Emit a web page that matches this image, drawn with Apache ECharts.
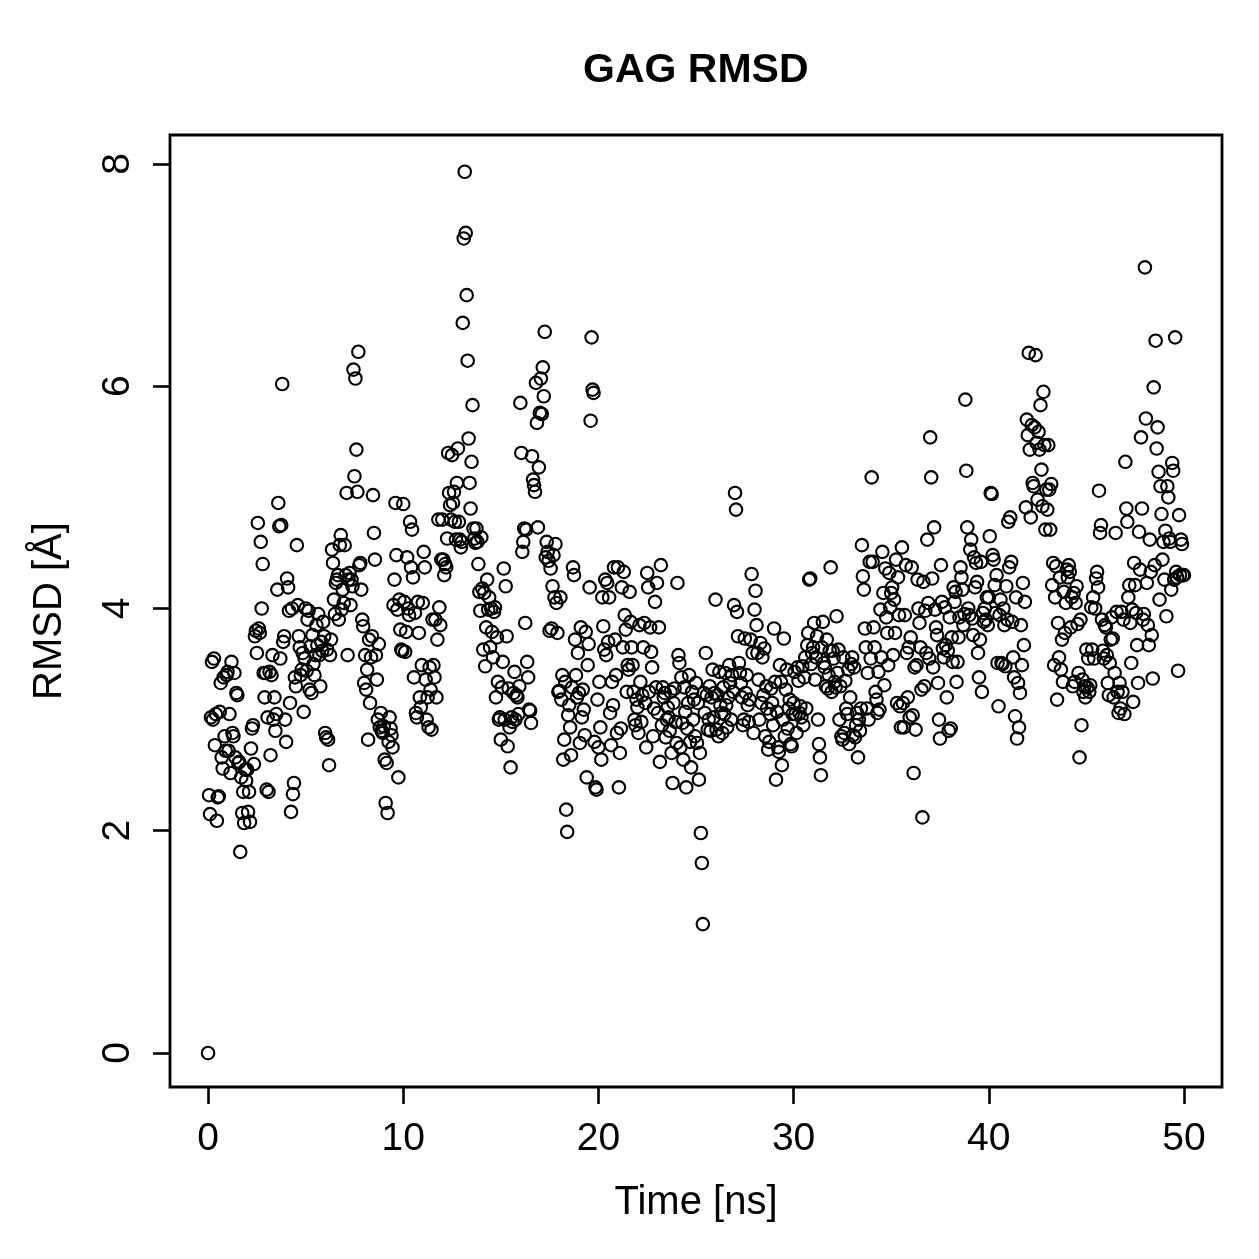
<!DOCTYPE html>
<html>
<head>
<meta charset="utf-8">
<title>GAG RMSD</title>
<script src="https://cdn.jsdelivr.net/npm/echarts@6/dist/echarts.min.js"></script>
<style>
  html, body { margin: 0; padding: 0; background: #fff; }
  #chart { width: 1259px; height: 1259px; }
</style>
</head>
<body>
<div id="chart"></div>
<script>
// one frame every 0.05 ns, 20 frames per ns, values in Angstrom
const rmsd0to10 = [
  0, 2.32, 2.15, 3.02, 3.52, 3.0, 3.55, 2.77, 3.05, 2.09, 2.3, 2.31, 3.07, 3.33, 2.66, 2.56, 3.38, 2.85, 2.72, 3.4,
  3.43, 2.72, 3.05, 2.52, 3.52, 2.88, 2.85, 3.42, 2.66, 3.24, 3.22, 2.61, 2.62, 1.81, 2.48, 2.16, 2.35, 2.07, 2.55, 2.45,
  2.55, 2.17, 2.35, 2.08, 2.74, 2.92, 2.95, 2.6, 3.75, 3.8, 3.6, 4.77, 3.82, 3.78, 4.6, 4.0, 4.4, 3.42, 3.2, 3.42,
  2.37, 3.02, 2.35, 3.43, 2.68, 3.4, 3.58, 3.0, 3.2, 2.9, 3.05, 4.17, 4.95, 4.74, 3.55, 4.75, 6.02, 3.7, 3.75, 3.0,
  2.8, 4.27, 4.19, 3.98, 3.15, 2.17, 4.0, 2.33, 2.43, 3.38, 3.3, 4.57, 4.03, 3.75, 3.65, 3.4, 3.45, 3.6, 3.07, 3.55,
  4.0, 3.44, 3.9, 3.98, 3.27, 3.66, 3.24, 3.76, 3.5, 3.4, 3.58, 3.85, 3.67, 3.95, 3.58, 3.3, 3.7, 3.62, 3.88, 3.75,
  2.88, 2.84, 3.63, 2.82, 2.59, 3.58, 3.72, 4.53, 4.41, 4.08, 3.95, 4.23, 4.26, 4.3, 3.9, 4.57, 4.66, 3.99, 4.17, 4.05,
  4.57, 4.3, 5.04, 3.58, 4.26, 4.32, 4.03, 4.26, 4.2, 6.15, 5.19, 6.07, 5.43, 5.05, 6.31, 4.39, 4.41, 4.17, 3.9, 3.84,
  3.33, 3.58, 3.27, 3.45, 2.82, 3.72, 3.15, 3.56, 3.75, 5.02, 4.68, 4.44, 3.58, 3.36, 3.0, 3.68, 2.93, 3.06, 2.9, 2.88,
  2.94, 2.64, 2.25, 2.61, 2.16, 2.8, 3.02, 2.92, 2.86, 2.75, 4.03, 4.26, 4.95, 4.48, 3.99, 2.48, 4.08, 3.81, 3.63, 3.62
];
const rmsd10to20 = [
  4.94, 4.06, 3.61, 3.79, 4.46, 4.0, 3.94, 4.78, 4.37, 4.71, 4.28, 3.38, 3.96, 3.06, 3.02, 4.06, 3.78, 3.2, 3.11, 3.49,
  4.05, 4.51, 4.37, 3.36, 3.0, 3.2, 2.93, 3.47, 3.27, 2.91, 3.9, 3.49, 3.38, 3.9, 3.2, 3.72, 4.8, 4.01, 3.85, 4.44,
  4.8, 4.44, 4.3, 4.4, 4.37, 4.63, 5.4, 5.04, 4.93, 4.8, 5.38, 4.95, 5.05, 4.78, 4.62, 5.13, 5.44, 4.78, 4.62, 4.55,
  4.6, 6.57, 7.33, 7.93, 7.38, 6.82, 6.23, 5.53, 5.13, 4.9, 5.32, 5.83, 4.72, 4.63, 4.59, 4.72, 4.6, 4.4, 4.15, 3.98,
  4.64, 4.18, 3.63, 4.14, 3.48, 3.83, 4.26, 3.99, 4.1, 3.65, 4.0, 3.79, 3.56, 3.97, 4.01, 3.2, 3.74, 3.34, 3.0, 3.02,
  2.82, 3.29, 3.52, 4.36, 3.0, 4.2, 3.75, 2.76, 3.28, 2.93, 2.57, 3.02, 2.98, 3.24, 3.43, 3.0, 3.22, 3.2, 3.05, 3.3,
  5.85, 5.4, 4.51, 4.6, 4.72, 3.87, 4.71, 3.52, 3.38, 3.09, 3.08, 2.97, 5.37, 5.16, 5.11, 5.05, 6.03, 5.67, 4.73, 5.27,
  5.76, 6.07, 5.75, 6.17, 5.91, 6.49, 4.46, 4.6, 4.51, 4.43, 3.8, 4.36, 3.82, 4.2, 4.48, 4.1, 4.58, 4.05, 3.78, 3.25,
  3.26, 4.1, 3.18, 3.4, 2.64, 2.82, 3.34, 2.19, 1.99, 3.04, 3.13, 2.93, 2.68, 3.29, 4.37, 4.3, 3.72, 3.4, 3.2, 3.6,
  3.24, 2.79, 3.83, 3.02, 3.27, 3.09, 2.86, 3.79, 2.48, 3.49, 3.68, 4.19, 5.69, 6.44, 5.97, 5.94, 2.8, 2.39, 2.37, 3.18
];
const rmsd20to30 = [
  2.75, 3.34, 2.93, 2.64, 4.1, 3.84, 3.63, 4.26, 3.58, 4.23, 3.7, 4.1, 3.06, 2.77, 3.34, 3.13, 4.37, 3.72, 3.4, 2.88,
  4.37, 2.39, 2.7, 2.92, 4.19, 3.65, 4.33, 3.94, 3.81, 3.25, 3.49, 3.45, 4.15, 3.88, 3.65, 3.49, 3.25, 3.0, 2.95, 3.18,
  3.11, 2.88, 3.85, 3.34, 2.98, 3.22, 3.65, 3.87, 3.15, 2.75, 4.32, 4.19, 3.25, 3.83, 3.61, 3.47, 2.85, 3.1, 4.06, 3.29,
  4.23, 3.06, 3.83, 2.62, 4.39, 2.95, 3.29, 3.2, 3.24, 2.84, 3.0, 3.11, 3.02, 2.9, 3.25, 2.7, 2.43, 3.15, 3.28, 2.98,
  2.79, 4.23, 3.58, 3.51, 2.75, 3.38, 2.97, 2.64, 3.29, 3.07, 2.39, 2.92, 3.15, 3.4, 2.8, 2.57, 3.25, 3.0, 3.18, 2.85,
  3.33, 2.79, 3.15, 2.46, 2.7, 1.98, 1.71, 1.16, 3.24, 3.06, 3.6, 3.22, 2.91, 3.0, 3.3, 2.9, 3.2, 3.45, 3.02, 3.24,
  4.08, 2.91, 3.22, 2.85, 3.43, 3.13, 3.06, 2.88, 3.29, 3.05, 3.42, 3.13, 2.93, 3.2, 3.49, 3.33, 3.0, 3.4, 3.25, 4.03,
  5.04, 4.89, 3.97, 3.75, 3.51, 3.42, 3.33, 3.2, 2.95, 3.0, 3.73, 3.24, 3.4, 3.13, 2.98, 3.18, 3.72, 4.31, 3.6, 2.88,
  3.99, 4.16, 3.85, 3.6, 3.36, 3.0, 3.69, 3.15, 3.56, 3.22, 3.64, 2.85, 3.3, 3.1, 2.73, 2.8, 3.05, 3.28, 3.15, 2.95,
  3.82, 3.34, 2.46, 3.07, 2.75, 2.71, 3.49, 3.34, 2.59, 3.0, 3.73, 2.85, 3.27, 3.45, 2.92, 3.1, 3.18, 2.78, 2.76, 3.05
];
const rmsd30to40 = [
  3.15, 3.43, 3.05, 2.88, 3.47, 3.35, 3.06, 3.12, 3.02, 3.48, 2.95, 3.38, 3.56, 3.1, 3.67, 3.78, 4.26, 4.27, 3.5, 3.6,
  3.65, 3.87, 3.36, 3.56, 3.75, 3.0, 2.78, 2.66, 2.5, 3.65, 3.88, 3.51, 3.47, 3.3, 3.72, 3.28, 3.4, 3.62, 4.37, 3.25,
  3.62, 3.55, 3.34, 3.29, 3.93, 3.42, 3.63, 3.0, 3.3, 2.85, 2.82, 3.56, 2.88, 3.35, 3.1, 3.05, 3.45, 2.78, 3.2, 3.5,
  3.56, 2.86, 3.47, 2.84, 2.95, 3.06, 2.66, 3.0, 2.9, 3.1, 4.57, 4.29, 4.17, 3.82, 3.65, 3.1, 3.42, 3.0, 4.42, 3.55,
  5.18, 4.42, 3.83, 3.65, 3.25, 3.18, 3.06, 3.43, 3.09, 3.99, 3.56, 4.51, 4.14, 3.31, 4.36, 3.92, 3.78, 3.49, 4.32, 4.01,
  4.14, 4.19, 3.58, 4.08, 3.78, 4.44, 3.15, 4.28, 3.94, 3.12, 2.93, 4.55, 3.15, 2.93, 3.94, 4.39, 3.6, 3.2, 3.65, 3.02,
  3.74, 4.37, 3.04, 2.52, 3.47, 2.91, 3.49, 4.26, 4.0, 3.87, 3.65, 3.27, 2.12, 4.24, 3.3, 3.98, 3.6, 4.62, 4.05, 3.55,
  5.54, 5.18, 4.27, 3.47, 4.73, 3.99, 3.83, 3.76, 3.33, 3.0, 2.83, 4.39, 4.06, 3.64, 3.56, 4.01, 3.67, 3.2, 3.62, 2.9,
  3.92, 2.92, 3.74, 3.52, 4.19, 4.06, 4.15, 3.34, 3.52, 3.74, 3.92, 4.37, 4.28, 4.17, 3.85, 3.95, 5.88, 5.24, 4.73, 4.0,
  3.94, 4.53, 4.62, 3.91, 3.76, 4.46, 4.19, 4.41, 4.24, 3.6, 3.38, 3.72, 4.42, 3.25, 3.96, 3.88, 4.0, 3.9, 4.1, 3.85
];
const rmsd40to50 = [
  4.1, 4.65, 5.04, 5.03, 4.48, 4.44, 4.21, 3.96, 4.3, 3.51, 3.12, 3.94, 4.08, 3.51, 3.5, 4.0, 3.85, 3.48, 4.2, 3.9,
  4.78, 4.37, 4.82, 4.42, 3.88, 3.56, 3.38, 3.03, 4.1, 2.83, 3.33, 2.93, 3.24, 3.85, 3.49, 4.23, 3.67, 4.06, 4.91, 5.7,
  5.56, 6.3, 5.43, 4.82, 5.65, 5.13, 5.1, 5.63, 6.28, 5.49, 4.98, 5.59, 5.43, 5.83, 5.25, 4.92, 5.95, 5.47, 4.71, 5.07,
  4.89, 5.47, 5.07, 4.71, 5.12, 4.21, 4.41, 3.49, 4.1, 4.38, 3.18, 3.87, 3.56, 4.28, 3.45, 3.72, 3.34, 4.15, 3.78, 4.05,
  4.35, 4.28, 4.39, 4.33, 3.83, 4.1, 3.3, 4.14, 3.34, 4.05, 4.2, 3.86, 3.42, 2.66, 3.9, 2.95, 3.36, 3.25, 3.3, 3.2,
  3.63, 3.29, 3.55, 3.25, 3.31, 4.01, 3.63, 4.1, 3.55, 4.0, 4.27, 4.33, 4.19, 5.06, 4.68, 4.75, 3.9, 3.62, 3.55, 3.85,
  3.83, 3.58, 3.33, 3.22, 3.51, 3.72, 3.92, 3.73, 3.2, 3.42, 4.68, 3.97, 3.25, 3.06, 3.33, 3.1, 3.97, 3.25, 3.9, 3.05,
  5.32, 4.9, 4.78, 4.1, 4.21, 3.87, 3.51, 3.99, 3.16, 4.41, 4.21, 3.96, 3.67, 3.33, 4.69, 4.35, 5.54, 4.9, 3.9, 3.95,
  7.07, 5.71, 4.23, 3.85, 3.67, 4.62, 4.33, 3.76, 3.37, 5.99, 4.39, 6.41, 5.44, 5.63, 5.23, 4.08, 5.1, 4.85, 4.44, 4.6,
  4.26, 4.7, 3.93, 5.1, 5.0, 4.63, 4.6, 4.17, 5.31, 5.24, 4.26, 6.44, 4.33, 4.28, 3.44, 4.84, 4.3, 4.62, 4.58, 4.3,
  4.3
];
const timeStep = 0.05;
const xTicks = [0, 10, 20, 30, 40, 50];
const yTicks = [0, 2, 4, 6, 8];

const rmsd = [].concat(rmsd0to10, rmsd10to20, rmsd20to30, rmsd30to40, rmsd40to50);
const points = rmsd.map((v, i) => [+(i * timeStep).toFixed(2), v]);

const font = '"Liberation Sans", Arial, Helvetica, sans-serif';

let myChart = echarts.init(document.getElementById('chart'), null, {renderer: 'canvas'});
let option = {
    animation: false,
    backgroundColor: '#fff',
    title: {
        text: 'GAG RMSD',
        left: 578,
        top: 45,
        textStyle: {fontFamily: font, fontSize: 41, fontWeight: 'bold', color: '#000'}
    },
    grid: {
        left: 170,
        top: 135,
        width: 1052,
        height: 952,
        show: true,
        borderColor: '#000',
        borderWidth: 2.8,
        backgroundColor: 'transparent'
    },
    xAxis: {
        type: 'value',
        min: -1.95,
        max: 51.95,
        name: 'Time [ns]',
        nameLocation: 'middle',
        nameGap: 96,
        nameTextStyle: {fontFamily: font, fontSize: 40, color: '#000'},
        axisLine: {show: false, onZero: false},
        axisTick: {show: true, length: 17, lineStyle: {width: 2.6, color: '#000'}, customValues: xTicks},
        axisLabel: {customValues: xTicks, margin: 33, fontFamily: font, fontSize: 39, color: '#000'},
        splitLine: {show: false}
    },
    yAxis: {
        type: 'value',
        min: -0.306,
        max: 8.261,
        name: 'RMSD [Å]',
        nameLocation: 'middle',
        nameGap: 100,
        nameTextStyle: {fontFamily: font, fontSize: 40, color: '#000'},
        axisLine: {show: false, onZero: false},
        axisTick: {show: true, length: 17, lineStyle: {width: 2.6, color: '#000'}, customValues: yTicks},
        axisLabel: {customValues: yTicks, rotate: 90, margin: 32, fontFamily: font, fontSize: 39, color: '#000'},
        splitLine: {show: false}
    },
    series: [{
        type: 'scatter',
        data: points,
        symbol: 'circle',
        symbolSize: 12.5,
        itemStyle: {color: 'rgba(0,0,0,0)', borderColor: '#000', borderWidth: 2.1, opacity: 1}
    }]
};
myChart.setOption(option);
</script>
</body>
</html>
